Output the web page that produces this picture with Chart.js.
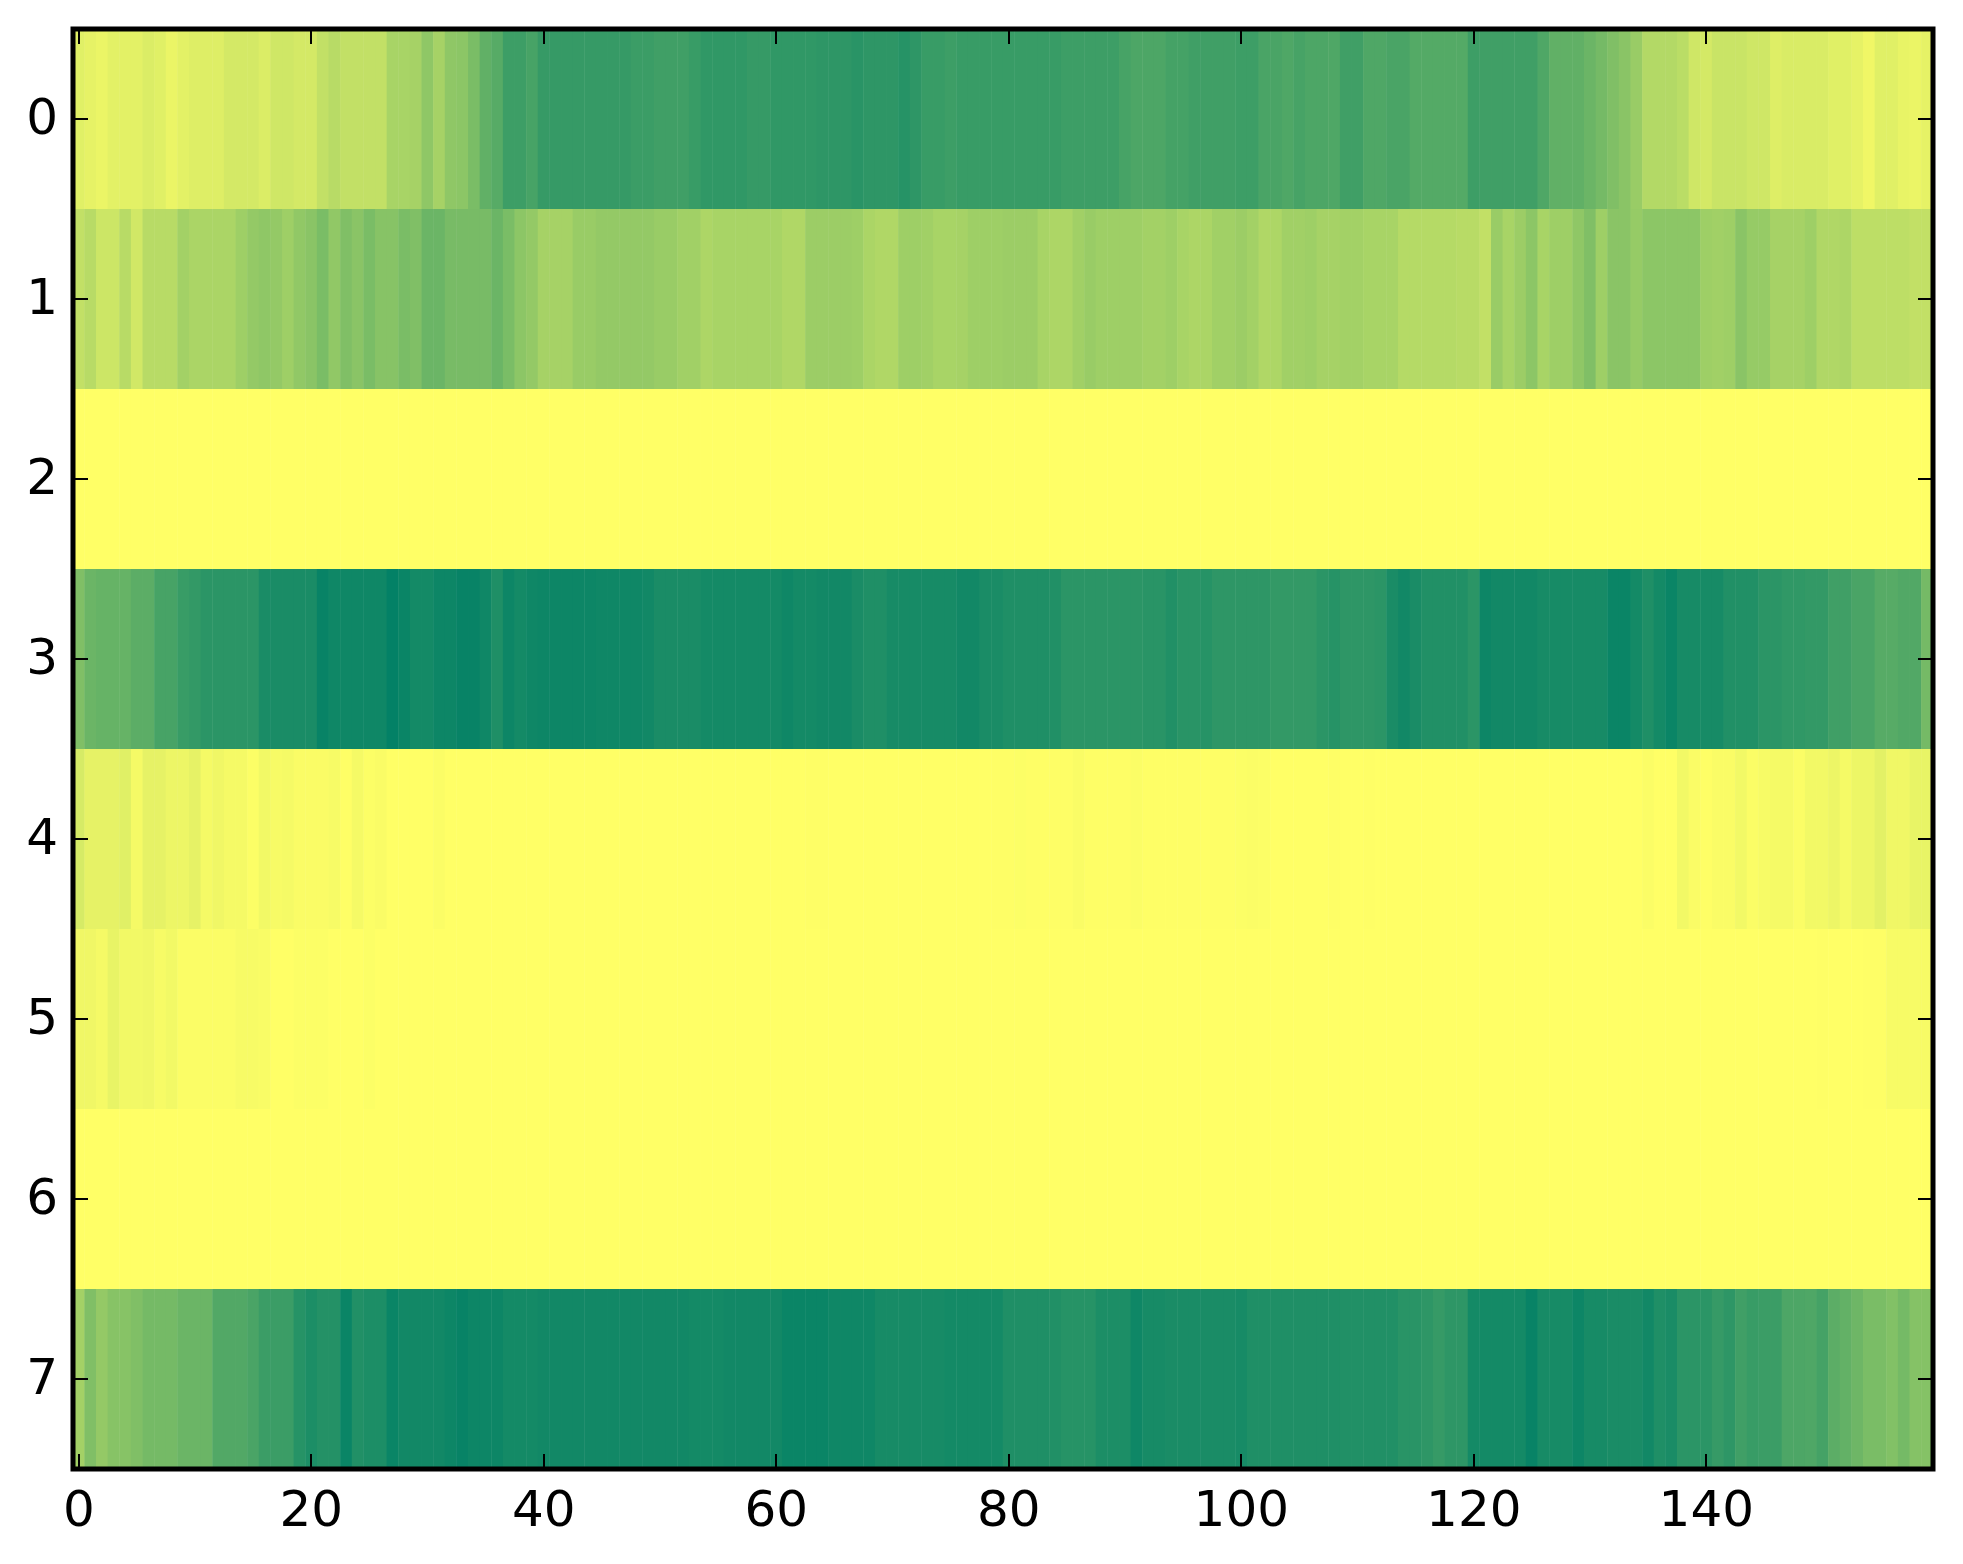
<!DOCTYPE html>
<html>
<head>
<meta charset="utf-8">
<title>Heatmap</title>
<script src="https://cdn.jsdelivr.net/npm/chart.js@4"></script>
<style>
  html, body { margin: 0; padding: 0; background: #fff; }
  canvas { display: block; }
</style>
</head>
<body>
<canvas id="heatmap" width="1963" height="1564"></canvas>
<script>
// tick labels
const xTickValues = [0, 20, 40, 60, 80, 100, 120, 140];
const yTickValues = [0, 1, 2, 3, 4, 5, 6, 7];

// one list per row of the image, 160 columns, 0 = dark green, 1 = yellow
const row0 = [
  .88,.90,.92,.89,.89,.89,.86,.88,.92,.89,
  .87,.87,.87,.83,.83,.83,.86,.81,.81,.83,
  .83,.76,.72,.76,.76,.76,.76,.66,.66,.65,
  .56,.65,.56,.55,.48,.38,.34,.24,.24,.28,
  .21,.21,.21,.21,.21,.21,.21,.21,.23,.23,
  .25,.25,.25,.22,.19,.19,.19,.19,.21,.21,
  .19,.19,.19,.19,.18,.18,.18,.16,.18,.18,
  .18,.15,.18,.22,.22,.24,.22,.22,.22,.22,
  .22,.22,.22,.22,.22,.24,.24,.24,.24,.24,
  .28,.30,.30,.30,.27,.27,.25,.25,.25,.25,
  .24,.24,.29,.29,.31,.28,.30,.30,.31,.25,
  .25,.31,.31,.29,.29,.33,.33,.33,.33,.33,
  .24,.25,.25,.25,.25,.25,.31,.38,.38,.38,
  .42,.46,.50,.54,.60,.70,.70,.70,.73,.81,
  .83,.79,.79,.79,.81,.81,.87,.85,.85,.85,
  .85,.88,.88,.90,.94,.88,.88,.91,.92,.90
];
const row1 = [
  .76,.72,.80,.80,.72,.82,.72,.72,.72,.64,
  .67,.67,.67,.67,.62,.58,.56,.58,.62,.57,
  .54,.48,.57,.50,.54,.48,.53,.53,.48,.50,
  .42,.42,.47,.47,.47,.47,.42,.48,.55,.58,
  .65,.65,.65,.60,.60,.58,.58,.58,.58,.58,
  .60,.60,.63,.63,.68,.66,.66,.66,.66,.66,
  .66,.69,.69,.61,.61,.61,.61,.62,.67,.69,
  .69,.62,.62,.63,.66,.66,.65,.62,.62,.62,
  .61,.61,.61,.66,.68,.68,.63,.60,.62,.62,
  .62,.62,.64,.64,.62,.66,.68,.67,.63,.63,
  .61,.64,.69,.68,.63,.63,.62,.65,.65,.64,
  .64,.66,.66,.66,.71,.71,.71,.71,.71,.72,
  .72,.76,.60,.66,.61,.55,.66,.62,.62,.56,
  .50,.62,.54,.54,.59,.55,.55,.55,.55,.55,
  .62,.63,.62,.54,.59,.59,.65,.65,.65,.62,
  .69,.69,.68,.74,.74,.74,.74,.74,.76,.76
];
const row2 = [
  1,1,1,1,1,1,1,1,1,1,1,1,1,1,1,1,1,1,1,1,
  1,1,1,1,1,1,1,1,1,1,1,1,1,1,1,1,1,1,1,1,
  1,1,1,1,1,1,1,1,1,1,1,1,1,1,1,1,1,1,1,1,
  1,1,1,1,1,1,1,1,1,1,1,1,1,1,1,1,1,1,1,1,
  1,1,1,1,1,1,1,1,1,1,1,1,1,1,1,1,1,1,1,1,
  1,1,1,1,1,1,1,1,1,1,1,1,1,1,1,1,1,1,1,1,
  1,1,1,1,1,1,1,1,1,1,1,1,1,1,1,1,1,1,1,1,
  1,1,1,1,1,1,1,1,1,1,1,1,1,1,1,1,1,1,1,1
];
const row3 = [
  .50,.42,.40,.40,.40,.36,.36,.28,.28,.22,
  .20,.17,.17,.17,.17,.17,.10,.10,.10,.10,
  .10,.03,.06,.06,.06,.06,.06,.01,.04,.08,
  .08,.05,.05,.03,.03,.06,.12,.05,.08,.06,
  .05,.05,.05,.05,.05,.06,.06,.06,.06,.07,
  .10,.10,.10,.10,.08,.08,.08,.08,.08,.08,
  .08,.06,.08,.08,.07,.07,.07,.10,.12,.12,
  .09,.09,.09,.09,.09,.09,.07,.07,.10,.10,
  .12,.12,.12,.12,.13,.17,.17,.17,.17,.17,
  .17,.17,.16,.16,.13,.16,.16,.15,.18,.18,
  .18,.18,.18,.20,.20,.20,.20,.17,.15,.18,
  .18,.18,.17,.10,.07,.10,.13,.13,.13,.13,
  .17,.05,.07,.07,.07,.07,.09,.09,.09,.09,
  .09,.09,.04,.04,.08,.12,.08,.04,.09,.09,
  .09,.09,.13,.13,.13,.17,.17,.19,.19,.20,
  .20,.25,.25,.29,.29,.34,.34,.32,.32,.46
];
const row4 = [
  .84,.90,.90,.90,.88,.96,.90,.90,.93,.93,
  .90,.96,.94,.96,.96,.99,.95,.97,.96,.98,
  .98,.98,.97,.995,.96,.99,.98,1,1,1,
  1,.985,1,1,1,1,1,1,1,1,
  1,1,1,1,1,1,1,1,1,1,
  1,1,1,1,1,1,1,1,1,1,
  1,1,1,.995,.995,1,1,1,1,1,
  1,1,1,1,1,1,1,1,1,.995,
  .995,.99,.995,.995,.995,.995,.98,.995,.995,.995,
  .995,.985,.995,.995,.995,.995,.995,.995,.995,.995,
  .99,.985,.99,1,1,1,1,1,.995,1,
  1,.995,1,1,1,1,1,1,1,1,
  1,1,1,1,1,1,1,1,1,1,
  1,1,1,1,1,.985,1,1,.95,.98,
  .995,.98,.98,.95,.985,.97,.96,.96,.985,.95,
  .95,.93,.96,.93,.93,.89,.94,.94,.91,.91
];
const row5 = [
  .94,.94,.96,.91,.95,.95,.94,.97,.95,.985,
  .985,.985,.985,.985,.97,.97,.975,1,1,.99,
  .99,.99,1,1,1,.99,1,1,1,1,
  1,1,1,1,1,1,1,1,1,1,
  1,1,1,1,1,1,1,1,1,1,
  1,1,1,1,1,1,1,1,1,1,
  1,1,1,1,1,1,1,1,1,1,
  1,1,1,1,1,1,1,1,1,1,
  1,1,1,1,1,1,1,1,1,1,
  1,1,1,1,1,1,1,1,1,1,
  1,1,1,1,1,1,1,1,1,1,
  1,1,1,1,1,1,1,1,1,1,
  1,1,1,1,1,1,1,1,1,1,
  1,1,1,1,1,1,1,1,1,1,
  1,1,1,1,1,1,1,1,1,1,
  .995,1,1,1,.995,.995,.97,.97,.97,.97
];
const row6 = [
  1,1,1,1,1,1,1,1,1,1,1,1,1,1,1,1,1,1,1,1,
  1,1,1,1,1,1,1,1,1,1,1,1,1,1,1,1,1,1,1,1,
  1,1,1,1,1,1,1,1,1,1,1,1,1,1,1,1,1,1,1,1,
  1,1,1,1,1,1,1,1,1,1,1,1,1,1,1,1,1,1,1,1,
  1,1,1,1,1,1,1,1,1,1,1,1,1,1,1,1,1,1,1,1,
  1,1,1,1,1,1,1,1,1,1,1,1,1,1,1,1,1,1,1,1,
  1,1,1,1,1,1,1,1,1,1,1,1,1,1,1,1,1,1,1,1,
  1,1,1,1,1,1,1,1,1,1,1,1,1,1,1,1,1,1,1,1
];
const row7 = [
  .64,.50,.58,.53,.53,.50,.46,.46,.46,.42,
  .42,.42,.32,.32,.32,.29,.23,.23,.23,.15,
  .11,.14,.14,.04,.13,.11,.11,.04,.07,.07,
  .07,.07,.05,.03,.05,.05,.05,.08,.08,.08,
  .07,.07,.07,.07,.07,.07,.07,.07,.07,.07,
  .07,.07,.07,.08,.08,.08,.07,.07,.07,.07,
  .07,.04,.04,.04,.04,.06,.06,.06,.06,.09,
  .09,.09,.09,.09,.09,.08,.08,.08,.08,.08,
  .12,.12,.12,.12,.13,.15,.15,.15,.11,.11,
  .11,.06,.09,.09,.10,.10,.10,.10,.10,.10,
  .09,.12,.12,.12,.12,.12,.12,.12,.12,.13,
  .13,.13,.13,.13,.16,.16,.18,.21,.18,.18,
  .08,.08,.08,.08,.08,.03,.09,.09,.09,.05,
  .09,.09,.10,.10,.10,.07,.12,.10,.17,.17,
  .17,.21,.18,.25,.22,.23,.23,.30,.30,.31,
  .27,.36,.39,.43,.48,.48,.51,.46,.52,.52
];
const rows = [row0, row1, row2, row3, row4, row5, row6, row7];

// matplotlib "summer" colormap
function summer(v) {
  return `rgb(${Math.round(255 * v)},${Math.round(127.5 + 127.5 * v)},102)`;
}

const columns = row0.map((_, i) => i);

// ticks inside the frame and the frame itself, like the original
const framePlugin = {
  id: 'frame',
  afterDatasetsDraw(chart) {
    const { ctx, chartArea: a, scales } = chart;
    const tick = 15;
    ctx.save();
    ctx.strokeStyle = '#000';
    ctx.lineWidth = 2;
    ctx.beginPath();
    xTickValues.forEach(v => {
      const x = Math.round(scales.x.getPixelForValue(v));
      ctx.moveTo(x, a.top); ctx.lineTo(x, a.top + tick);
      ctx.moveTo(x, a.bottom); ctx.lineTo(x, a.bottom - tick);
    });
    yTickValues.forEach(v => {
      const y = Math.round(scales.y.getPixelForValue(v));
      ctx.moveTo(a.left, y); ctx.lineTo(a.left + tick, y);
      ctx.moveTo(a.right, y); ctx.lineTo(a.right - tick, y);
    });
    ctx.stroke();
    ctx.lineWidth = 5;
    ctx.strokeRect(a.left, a.top, a.right - a.left, a.bottom - a.top);
    ctx.restore();
  }
};

new Chart(document.getElementById('heatmap'), {
  type: 'bar',
  data: {
    labels: columns,
    datasets: rows.map((values, r) => ({
      data: values.map(() => [r - 0.5, r + 0.5]),
      backgroundColor: values.map(summer),
      borderWidth: 0,
      grouped: false,
      barPercentage: 1.04, // slight overlap so no seams show between cells
      categoryPercentage: 1
    }))
  },
  options: {
    responsive: false,
    animation: false,
    devicePixelRatio: 1,
    layout: { padding: { top: 29, right: 30, left: 0, bottom: 0 } },
    plugins: { legend: { display: false }, tooltip: { enabled: false } },
    scales: {
      x: {
        type: 'category',
        grid: { display: false, drawTicks: false },
        border: { display: false },
        afterFit(scale) { scale.height = 95; scale.paddingLeft = 0; scale.paddingRight = 0; },
        ticks: {
          autoSkip: false,
          maxRotation: 0,
          padding: 14,
          color: '#000',
          font: { family: 'DejaVu Sans', size: 50 },
          callback(value) { return xTickValues.includes(value) ? String(value) : ''; }
        }
      },
      y: {
        type: 'linear',
        reverse: true,
        min: -0.5,
        max: 7.5,
        grid: { display: false, drawTicks: false },
        border: { display: false },
        afterFit(scale) { scale.width = 73; scale.paddingTop = 0; scale.paddingBottom = 0; },
        afterBuildTicks(scale) { scale.ticks = yTickValues.map(v => ({ value: v })); },
        ticks: {
          padding: 15,
          labelOffset: 2,
          color: '#000',
          font: { family: 'DejaVu Sans', size: 50 },
          callback(value) { return String(value); }
        }
      }
    }
  },
  plugins: [framePlugin]
});
</script>
</body>
</html>
